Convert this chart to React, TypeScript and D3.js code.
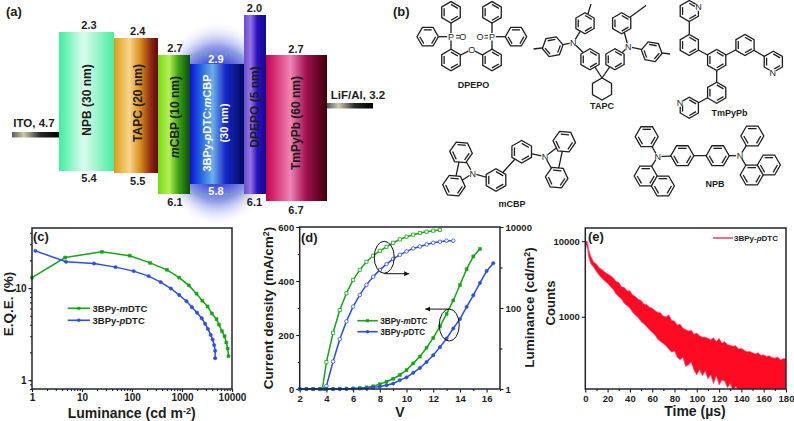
import { useEffect, useRef } from "react"
import * as d3 from "d3"

// panel (a): energy levels
const layerNames = ["NPB", "TAPC", "mCBP", "EML", "DPEPO", "TmPyPb"]
const layerLumo = [2.3, 2.4, 2.7, 2.9, 2.0, 2.7]
const layerHomo = [5.4, 5.5, 6.1, 5.8, 6.1, 6.7]
const levelTicks = [2.0, 2.3, 2.4, 2.7, 2.9, 3.2, 4.7, 5.4, 5.5, 5.8, 6.1, 6.7]
const levelPixels = [15, 32, 38, 55, 64, 103, 132, 171, 173, 184, 194, 201]

// panel (c)
const eqeGreenL = [1, 4.6, 25, 90, 230, 500, 880, 1370, 1950, 2550, 3250, 3950, 4900, 5500, 6300, 7100, 7700, 8200, 8500]
const eqeGreenY = [13, 21.5, 24.8, 22.5, 18.8, 15.8, 13, 10.7, 8.7, 7.3, 6.3, 5.3, 4.6, 4, 3.4, 3, 2.56, 2.2, 1.82]
const eqeBlueL = [1.17, 4.8, 17.4, 47, 108, 215, 375, 600, 880, 1230, 1580, 2000, 2480, 2900, 3300, 3750, 4100, 4400, 4600, 4600]
const eqeBlueY = [25.4, 19.3, 18.5, 16.9, 15.3, 13.5, 11.6, 9.9, 8.4, 7.2, 6.2, 5.4, 4.7, 4.1, 3.6, 3.1, 2.76, 2.4, 2.08, 1.73]

// panel (d)
const jGreenV = [2, 2.5, 3, 3.5, 4, 4.5, 5, 5.5, 6, 6.5, 7, 7.5, 8, 8.5, 9, 9.5, 10, 10.5, 11, 11.5, 12, 12.5, 13, 13.5, 14, 14.5, 15, 15.5]
const jGreen = [0, 0, 0, 0, 0, 0, 1, 1, 2, 4, 6, 10, 18, 27, 38, 52, 70, 95, 120, 153, 189, 232, 278, 328, 385, 444, 491, 519]
const jBlueV = [2, 2.5, 3, 3.5, 4, 4.5, 5, 5.5, 6, 6.5, 7, 7.5, 8, 8.5, 9, 9.5, 10, 10.5, 11, 11.5, 12, 12.5, 13, 13.5, 14, 14.5, 15, 15.5, 16, 16.5]
const jBlue = [0, 0, 0, 0, 0, 0, 0, 0, 1, 2, 3, 6, 9, 14, 20, 33, 43, 60, 78, 100, 125, 155, 187, 224, 259, 304, 347, 393, 437, 466]
const lumGreenV = [3.7, 4, 4.5, 5, 5.5, 6, 6.5, 7, 7.5, 8, 8.5, 9, 9.5, 10, 10.5, 11, 11.5, 12, 12.5]
const lumGreen = [1, 4.6, 24.4, 89, 231, 494, 875, 1385, 1945, 2590, 3250, 4080, 4945, 5750, 6460, 7100, 7660, 8110, 8430]
const lumBlueV = [3.9, 4, 4.5, 5, 5.5, 6, 6.5, 7, 7.5, 8, 8.5, 9, 9.5, 10, 10.5, 11, 11.5, 12, 12.5, 13, 13.5]
const lumBlue = [1, 1.19, 4.76, 17, 46.7, 108, 210, 372, 587, 873, 1210, 1640, 2060, 2495, 2960, 3310, 3715, 4080, 4325, 4580, 4580]

// panel (e): noisy decay, read as upper and lower edge of the band
const decayT = [0, 1, 2, 3, 4, 5, 7.5, 10, 12.5, 15, 17.5, 20, 22.5, 25, 27.5, 30, 32.5, 35, 37.5, 40, 42.5, 45, 47.5, 50, 52.5, 55, 57.5, 60, 62.5, 65, 67.5, 70, 72.5, 75, 77.5, 80, 82.5, 85, 87.5, 90, 92.5, 95, 97.5, 100, 102.5, 105, 107.5, 110, 112.5, 115, 117.5, 120, 122.5, 125, 127.5, 130, 132.5, 135, 137.5, 140, 142.5, 145, 147.5, 150, 152.5, 155, 157.5, 160, 162.5, 165, 167.5, 170, 172.5, 175, 177.5, 180]
const decayUpper = [9200, 10000, 9800, 7800, 7000, 6300, 5300, 5000, 4450, 4200, 3900, 3700, 3500, 3300, 2950, 2850, 2500, 2450, 2200, 2200, 1950, 1850, 1700, 1650, 1480, 1450, 1350, 1300, 1210, 1150, 1130, 1020, 1000, 1060, 900, 880, 780, 800, 710, 680, 650, 670, 590, 610, 560, 540, 540, 520, 500, 530, 470, 520, 450, 470, 430, 420, 410, 415, 375, 385, 360, 345, 350, 335, 325, 335, 310, 315, 300, 305, 290, 285, 295, 270, 280, 280]
const decayLower = [7600, 8800, 7800, 6200, 5500, 5000, 4500, 3950, 3500, 3200, 2950, 2750, 2500, 2300, 2000, 1850, 1700, 1500, 1400, 1300, 1140, 1050, 970, 860, 800, 740, 670, 620, 570, 500, 470, 440, 410, 370, 340, 350, 290, 270, 290, 220, 230, 250, 195, 170, 200, 165, 190, 150, 170, 130, 165, 125, 145, 140, 115, 130, 105, 120, 100, 100, 100, 100, 100, 100, 100, 100, 100, 100, 100, 100, 100, 100, 100, 100, 100, 100]

// panel (b): ring centres [x, y, rotation], links, atoms
const dpepoRings = [[451, 12.3, 30], [427.7, 36.7, 0], [451, 60, 30], [492, 12.3, 30], [516, 36.7, 0], [492, 60, 30]]
const dpepoLinks = [[451, 12.3, 451, 60], [427.7, 36.7, 451, 36.7], [492, 12.3, 492, 60], [516, 36.7, 492, 36.7], [451, 60, 471.7, 49.3], [492, 60, 471.7, 49.3]]
const dpepoAtoms = [[451, 36.7, "P"], [492, 36.7, "P"], [462.7, 36.7, "O"], [480, 36.7, "O"], [471.7, 49.3, "O"]]
const tapcRings = [[585, 23.3, 30], [552.7, 46.7, -10], [590, 59.3, 30], [621.7, 23.3, 30], [651.7, 51.7, 10], [615, 59.3, 30]]
const tapcLinks = [[591, 4, 585, 23.3], [533.5, 49, 552.7, 46.7], [646, 5.5, 621.7, 23.3], [670, 54, 651.7, 51.7], [573.3, 42.7, 585, 23.3], [573.3, 42.7, 552.7, 46.7], [573.3, 42.7, 590, 59.3], [628.3, 46.7, 621.7, 23.3], [628.3, 46.7, 651.7, 51.7], [628.3, 46.7, 615, 59.3], [590, 59.3, 602, 78], [615, 59.3, 602, 78]]
const tapcAtoms = [[573.3, 42.7, "N"], [628.3, 46.7, "N"]]
const cyclohexane = [602, 89, 30]
const tmpypbRings = [[689.3, 11, 30], [689.3, 45, 30], [716.7, 60, 30], [745, 45, 30], [773.3, 61.7, 30], [716.7, 92.7, 30], [689.3, 107.7, 30]]
const tmpypbLinks = [[689.3, 11, 689.3, 45], [689.3, 45, 716.7, 60], [716.7, 60, 745, 45], [745, 45, 773.3, 61.7], [716.7, 60, 716.7, 92.7], [716.7, 92.7, 689.3, 107.7]]
const tmpypbAtoms = [[698.5, 7, "N"], [772.7, 72.5, "N"], [680, 103, "N"]]
const mcbpRings = [[461, 152.3, 5], [454, 185.7, 5], [496, 180, 30], [521.7, 151.7, 30], [564.3, 141.7, 5], [556.7, 177.7, 5]]
const mcbpLinks = [[472.7, 173.3, 461, 152.3], [472.7, 173.3, 454, 185.7], [461, 152.3, 454, 185.7], [472.7, 173.3, 496, 180], [496, 180, 521.7, 151.7], [521.7, 151.7, 545, 156.7], [545, 156.7, 564.3, 141.7], [545, 156.7, 556.7, 177.7], [564.3, 141.7, 556.7, 177.7]]
const mcbpAtoms = [[472.7, 173.3, "N"], [545, 156.7, "N"]]
const npbRings = [[646.7, 136.7, 0], [645.7, 176, 0], [662.9, 186, 0], [682.3, 155.7, 0], [717.7, 155.7, 0], [752.3, 136, 0], [751.7, 175, 0], [768.9, 165, 0]]
const npbLinks = [[657.7, 156.7, 646.7, 136.7], [657.7, 156.7, 645.7, 176], [657.7, 156.7, 682.3, 155.7], [682.3, 155.7, 717.7, 155.7], [717.7, 155.7, 740, 155.7], [740, 155.7, 752.3, 136], [740, 155.7, 751.7, 175]]
const npbAtoms = [[657.7, 156.7, "N"], [740, 155.7, "N"]]

const FONT = "'Liberation Sans', Arial, sans-serif"
const INK = "#1c1c1c"
const GREEN = "#17a317"
const BLUE = "#2a4fe2"

type Part = [string, string?]

function label(g: any, x: number, y: number, parts: Part[], o: any = {}) {
  const t = g
    .append("text")
    .attr("x", x)
    .attr("y", y)
    .attr("font-family", FONT)
    .attr("font-weight", o.weight || "bold")
    .attr("font-size", o.size || 10)
    .attr("fill", o.fill || INK)
    .attr("text-anchor", o.anchor || "middle")
  if (o.rotate !== undefined) t.attr("transform", `rotate(${o.rotate},${x},${y})`)
  let raised = false
  parts.forEach(([s, kind]) => {
    const span = t.append("tspan").text(s)
    if (kind === "i") span.attr("font-style", "italic")
    if (kind === "sup") {
      span.attr("dy", "-0.4em").attr("font-size", "0.65em")
      raised = true
    } else if (raised) {
      span.attr("dy", "0.26em")
      raised = false
    }
  })
  return t
}

function gradient(defs: any, id: string, stops: [number, string][]) {
  const lg = defs.append("linearGradient").attr("id", id)
  stops.forEach(([o, c]) => lg.append("stop").attr("offset", o).attr("stop-color", c))
}

function drawAxis(g: any, axis: any, transform: string, size = 10) {
  const a = g.append("g").attr("transform", transform).call(axis)
  a.select(".domain").remove()
  a.selectAll("line").attr("stroke", INK).attr("stroke-width", 1.1)
  a.selectAll("text").attr("font-family", FONT).attr("font-weight", "bold").attr("font-size", size).attr("fill", INK)
  return a
}

function frame(g: any, x0: number, x1: number, y0: number, y1: number) {
  g.append("rect")
    .attr("x", x0)
    .attr("y", y0)
    .attr("width", x1 - x0)
    .attr("height", y1 - y0)
    .attr("fill", "none")
    .attr("stroke", "#20242e")
    .attr("stroke-width", 1.5)
}

function hexPoints(cx: number, cy: number, rot: number, r: number) {
  return d3.range(6).map((i) => {
    const a = ((rot + i * 60) * Math.PI) / 180
    return [cx + r * Math.cos(a), cy + r * Math.sin(a)]
  })
}

function molecule(g: any, rings: any[], links: any[], atoms: any[], r: number) {
  const m = g.append("g").attr("stroke", "#1e1e1e").attr("stroke-width", 1.3).attr("fill", "none")
  links.forEach(([a, b, c, d]) => m.append("line").attr("x1", a).attr("y1", b).attr("x2", c).attr("y2", d))
  rings.forEach(([cx, cy, rot]) => {
    const pts = hexPoints(cx, cy, rot, r)
    m.append("polygon").attr("points", pts.join(" ")).attr("fill", "#fff")
    ;[0, 2, 4].forEach((i) => {
      const p = pts[i]
      const q = pts[(i + 1) % 6]
      const k = 0.74
      m.append("line")
        .attr("x1", cx + (p[0] - cx) * k)
        .attr("y1", cy + (p[1] - cy) * k)
        .attr("x2", cx + (q[0] - cx) * k)
        .attr("y2", cy + (q[1] - cy) * k)
    })
  })
  atoms.forEach(([x, y, s]) => {
    g.append("circle").attr("cx", x).attr("cy", y).attr("r", 3.8).attr("fill", "#fff")
    label(g, x, y + 3.3, [[s]], { size: 9, weight: "normal", fill: "#1e1e1e" })
  })
}

function series(g: any, xs: number[], ys: number[], x: any, y: any, color: string, shape: string, open: boolean) {
  const pts = xs.map((v, i) => [x(v), y(ys[i])])
  g.append("path")
    .attr("d", d3.line()(pts as any))
    .attr("fill", "none")
    .attr("stroke", color)
    .attr("stroke-width", 1.5)
  pts.forEach(([px, py]) => {
    const s = shape === "square" ? d3.symbolSquare : d3.symbolCircle
    g.append("path")
      .attr("d", d3.symbol(s, open ? 10 : 9)())
      .attr("transform", `translate(${px},${py})`)
      .attr("fill", open ? "#fff" : color)
      .attr("stroke", color)
      .attr("stroke-width", open ? 0.8 : 0.5)
  })
}

function legendRow(g: any, x0: number, x1: number, y: number, color: string, shape: string, parts: Part[], size: number) {
  g.append("line").attr("x1", x0).attr("x2", x1).attr("y1", y).attr("y2", y).attr("stroke", color).attr("stroke-width", 1.6)
  g.append("path")
    .attr("d", d3.symbol(shape === "square" ? d3.symbolSquare : d3.symbolCircle, 9)())
    .attr("transform", `translate(${(x0 + x1) / 2},${y})`)
    .attr("fill", color)
  label(g, x1 + 2.5, y + size * 0.36, parts, { size, anchor: "start" })
}

export default function App() {
  const svgRef = useRef<SVGSVGElement>(null)

  useEffect(() => {
    const svg = d3.select(svgRef.current)
    svg.selectAll("*").remove()
    const defs = svg.append("defs")

    // ---------- (a) ----------
    const a = svg.append("g")
    const level = d3.scaleLinear().domain(levelTicks).range(levelPixels)
    const edges = [59, 114, 158, 190, 244, 266, 327]
    const fills: [number, string][][] = [
      [[0, "#40eea0"], [0.45, "#dcfcec"], [1, "#48eca4"]],
      [[0, "#dd9c18"], [0.35, "#f8d68c"], [0.6, "#d88c1c"], [0.85, "#8a2412"], [1, "#5c0a10"]],
      [[0, "#78dc10"], [0.35, "#b4ee58"], [0.65, "#3aa012"], [1, "#0c4c10"]],
      [[0, "#0e10d8"], [0.2, "#2464e0"], [0.42, "#6cb0e8"], [0.66, "#1626c8"], [1, "#000a5c"]],
      [[0, "#6a4cd0"], [0.3, "#9474e2"], [0.6, "#2c10c0"], [1, "#100a8c"]],
      [[0, "#c60050"], [0.4, "#f084b4"], [0.66, "#a01050"], [1, "#3c0008"]],
    ]
    layerNames.forEach((n, i) => gradient(defs, `g-${n}`, fills[i]))
    gradient(defs, "g-metal", [[0, "#5a5a58"], [0.25, "#cfc8b0"], [0.6, "#2a2a28"], [1, "#000"]])

    const halo = defs.append("radialGradient").attr("id", "g-halo")
    halo.append("stop").attr("offset", 0.52).attr("stop-color", "#1a28d0")
    halo.append("stop").attr("offset", 0.74).attr("stop-color", "#6a78e0").attr("stop-opacity", 0.75)
    halo.append("stop").attr("offset", 1).attr("stop-color", "#ffffff").attr("stop-opacity", 0)
    a.append("ellipse").attr("cx", 217).attr("cy", 124).attr("rx", 66).attr("ry", 104).attr("fill", "url(#g-halo)")

    const order = [0, 1, 3, 2, 4, 5]
    order.forEach((i) => {
      a.append("rect")
        .attr("x", edges[i])
        .attr("width", edges[i + 1] - edges[i])
        .attr("y", level(layerLumo[i]))
        .attr("height", level(layerHomo[i]) - level(layerLumo[i]))
        .attr("fill", `url(#g-${layerNames[i]})`)
    })
    // dashed mCBP edges running on behind the emitter
    ;[2.7, 6.1].forEach((v) => {
      a.append("line")
        .attr("x1", 190)
        .attr("x2", 244)
        .attr("y1", level(v))
        .attr("y2", level(v))
        .attr("stroke", "#35d860")
        .attr("stroke-width", 1)
        .attr("stroke-dasharray", "2 3")
    })
    a.append("rect").attr("x", 12).attr("y", level(4.7)).attr("width", 47).attr("height", 5.5).attr("fill", "url(#g-metal)")
    a.append("rect").attr("x", 327).attr("y", level(3.2)).attr("width", 46).attr("height", 5.5).attr("fill", "url(#g-metal)")

    label(a, 6, 16, [["(a)"]], { size: 13, anchor: "start" })
    const lumoY = [29, 35, 52, 63, 12, 53]
    const homoY = [182, 185, 206, 195, 206, 214]
    const labelX = [89, 137.7, 175, 216, 254.5, 296]
    layerNames.forEach((n, i) => {
      const fill = n === "EML" ? "#fff" : INK
      label(a, labelX[i], lumoY[i], [[layerLumo[i].toFixed(1)]], { size: 11, fill })
      label(a, labelX[i], homoY[i], [[layerHomo[i].toFixed(1)]], { size: 11, fill })
    })
    label(a, 34, 127, [["ITO, 4.7"]], { size: 11.5 })
    label(a, 358, 99, [["LiF/Al, 3.2"]], { size: 11.5 })
    const v = { size: 12, rotate: -90 }
    label(a, 91, 100, [["NPB (30 nm)"]], v)
    label(a, 141.5, 103, [["TAPC (20 nm)"]], v)
    label(a, 178.5, 117, [["m", "i"], ["CBP (10 nm)"]], v)
    label(a, 211, 123, [["3BPy-"], ["p", "i"], ["DTC:"], ["m", "i"], ["CBP"]], { ...v, fill: "#fff", size: 11 })
    label(a, 228, 123, [["(30 nm)"]], { ...v, fill: "#fff", size: 11 })
    label(a, 258.5, 107, [["DPEPO (5 nm)"]], v)
    label(a, 300, 123, [["TmPyPb (60 nm)"]], v)

    // ---------- (b) ----------
    const b = svg.append("g")
    label(b, 393, 16, [["(b)"]], { size: 13, anchor: "start" })
    molecule(b, dpepoRings, dpepoLinks, dpepoAtoms, 10.7)
    ;[[456, 460], [484.5, 488]].forEach(([x1, x2]) => {
      ;[-1.3, 1.3].forEach((dy) => {
        b.append("line").attr("x1", x1).attr("x2", x2).attr("y1", 36.7 + dy).attr("y2", 36.7 + dy).attr("stroke", "#222").attr("stroke-width", 0.9)
      })
    })
    b.append("polygon")
      .attr("points", hexPoints(cyclohexane[0], cyclohexane[1], cyclohexane[2], 11).join(" "))
      .attr("fill", "none")
      .attr("stroke", "#1e1e1e")
      .attr("stroke-width", 1.3)
    molecule(b, tapcRings, tapcLinks, tapcAtoms, 10.5)
    molecule(b, tmpypbRings, tmpypbLinks, tmpypbAtoms, 10.5)
    molecule(b, mcbpRings, mcbpLinks, mcbpAtoms, 11.3)
    molecule(b, npbRings, npbLinks, npbAtoms, 11.5)
    const m = { size: 9 }
    label(b, 473.5, 88, [["DPEPO"]], m)
    label(b, 602, 109, [["TAPC"]], m)
    label(b, 729.5, 116, [["TmPyPb"]], m)
    label(b, 512, 207, [["mCBP"]], m)
    label(b, 715, 187, [["NPB"]], m)

    // ---------- (c) ----------
    const c = svg.append("g")
    const cx = d3.scaleLog().domain([1, 10000]).range([32, 232])
    const cy = d3.scaleLog().domain([0.8, 45]).range([389, 228])
    const cMajorX = [1, 10, 100, 1000, 10000]
    const cMajorY = [1, 10]
    drawAxis(c, d3.axisBottom(cx).tickValues(cx.ticks()).tickSize(2).tickFormat(() => ""), "translate(0,389)")
    drawAxis(c, d3.axisBottom(cx).tickValues(cMajorX).tickSize(3).tickPadding(1.5).tickFormat(d3.format("d")), "translate(0,389)", 10)
    drawAxis(c, d3.axisLeft(cy).tickValues(cy.ticks()).tickSize(2).tickFormat(() => ""), "translate(32,0)")
    drawAxis(c, d3.axisLeft(cy).tickValues(cMajorY).tickSize(3.5).tickPadding(2).tickFormat(d3.format("d")), "translate(32,0)", 10)
    series(c, eqeGreenL, eqeGreenY, cx, cy, GREEN, "square", false)
    series(c, eqeBlueL, eqeBlueY, cx, cy, BLUE, "circle", false)
    frame(c, 32, 232, 228, 389)
    label(c, 33, 241, [["(c)"]], { size: 13, anchor: "start" })
    legendRow(c, 67.7, 90, 308.3, GREEN, "square", [["3BPy-"], ["m", "i"], ["DTC"]], 9.5)
    legendRow(c, 67.7, 90, 320.3, BLUE, "circle", [["3BPy-"], ["p", "i"], ["DTC"]], 9.5)
    label(c, 131.7, 418, [["Luminance (cd m"], ["-2", "sup"], [")"]], { size: 14 })
    label(c, 13, 304, [["E.Q.E. (%)"]], { size: 13.5, rotate: -90 })

    // ---------- (d) ----------
    const d = svg.append("g")
    const dx = d3.scaleLinear().domain([2, 17]).range([299.7, 500])
    const dj = d3.scaleLinear().domain([0, 600]).range([389, 227])
    const dl = d3.scaleLog().domain([1, 10000]).range([389, 227])
    drawAxis(d, d3.axisBottom(dx).tickValues(d3.range(3, 18, 2)).tickSize(2).tickFormat(() => ""), "translate(0,389)")
    drawAxis(d, d3.axisBottom(dx).tickValues(d3.range(2, 18, 2)).tickSize(3.5).tickPadding(3).tickFormat(d3.format("d")), "translate(0,389)", 9.5)
    drawAxis(d, d3.axisLeft(dj).tickValues([100, 300, 500]).tickSize(2).tickFormat(() => ""), "translate(299.7,0)")
    drawAxis(d, d3.axisLeft(dj).tickValues([0, 200, 400, 600]).tickSize(3.5).tickPadding(2).tickFormat(d3.format("d")), "translate(299.7,0)", 9.5)
    drawAxis(d, d3.axisRight(dl).tickValues([10, 1000]).tickSize(2.5).tickFormat(() => ""), "translate(500,0)")
    drawAxis(d, d3.axisRight(dl).tickValues([1, 100, 10000]).tickSize(3.5).tickPadding(2).tickFormat(d3.format("d")), "translate(500,0)", 9.5)
    series(d, lumGreenV, lumGreen, dx, dl, GREEN, "square", true)
    series(d, lumBlueV, lumBlue, dx, dl, BLUE, "circle", true)
    series(d, jGreenV, jGreen, dx, dj, GREEN, "square", false)
    series(d, jBlueV, jBlue, dx, dj, BLUE, "circle", false)
    frame(d, 299.7, 500, 227, 389)
    label(d, 301, 242, [["(d)"]], { size: 13, anchor: "start" })
    legendRow(d, 357.3, 377.7, 320.7, GREEN, "square", [["3BPy-"], ["m", "i"], ["DTC"]], 8.2)
    legendRow(d, 357.3, 377.7, 331.7, BLUE, "circle", [["3BPy-"], ["p", "i"], ["DTC"]], 8.2)
    label(d, 400, 417, [["V"]], { size: 14 })
    label(d, 273, 308, [["Current density (mA/cm"], ["2", "sup"], [")"]], { size: 13.5, rotate: -90 })
    label(d, 534, 307.5, [["Luminance (cd/m"], ["2", "sup"], [")"]], { size: 13.5, rotate: -90 })
    // circled groups and their arrows
    defs
      .append("marker")
      .attr("id", "arrow")
      .attr("markerWidth", 6)
      .attr("markerHeight", 6)
      .attr("refX", 5)
      .attr("refY", 2.5)
      .attr("orient", "auto")
      .append("path")
      .attr("d", "M0,0L5,2.5L0,5Z")
      .attr("fill", "#111")
    const annotations = [
      { v: 8.33, j: 488, x2: 10.2, jLine: 427 },
      { v: 13.2, j: 237, x2: 11.4, jLine: 296 },
    ]
    annotations.forEach((n) => {
      d.append("ellipse")
        .attr("cx", dx(n.v))
        .attr("cy", dj(n.j))
        .attr("rx", 10)
        .attr("ry", 16)
        .attr("fill", "none")
        .attr("stroke", "#111")
        .attr("stroke-width", 1)
      d.append("line")
        .attr("x1", dx(n.v))
        .attr("x2", dx(n.x2))
        .attr("y1", dj(n.jLine))
        .attr("y2", dj(n.jLine))
        .attr("stroke", "#111")
        .attr("stroke-width", 1)
        .attr("marker-end", "url(#arrow)")
    })

    // ---------- (e) ----------
    const e = svg.append("g")
    const ex = d3.scaleLinear().domain([0, 180]).range([585.3, 786])
    const ey = d3.scaleLog().domain([111, 14900]).range([389, 228])
    defs.append("clipPath").attr("id", "clip-e").append("rect").attr("x", 585.3).attr("y", 228).attr("width", 200.7).attr("height", 161)
    const band = d3
      .area<number>()
      .x((t) => ex(t))
      .y0((_, i) => ey(decayLower[i]))
      .y1((_, i) => ey(decayUpper[i]))
    e.append("path")
      .attr("clip-path", "url(#clip-e)")
      .attr("d", band(decayT))
      .attr("fill", "#ff0a22")
      .attr("stroke", "#ec6a9c")
      .attr("stroke-width", 0.7)
    drawAxis(e, d3.axisBottom(ex).tickValues(d3.range(10, 180, 20)).tickSize(2).tickFormat(() => ""), "translate(0,389)")
    drawAxis(e, d3.axisBottom(ex).tickValues(d3.range(0, 200, 20)).tickSize(3.5).tickPadding(3).tickFormat(d3.format("d")), "translate(0,389)", 9.5)
    drawAxis(e, d3.axisLeft(ey).tickValues([1000, 10000]).tickSize(3.5).tickPadding(2).tickFormat(d3.format("d")), "translate(585.3,0)", 9.5)
    frame(e, 585.3, 786, 228, 389)
    label(e, 588, 241, [["(e)"]], { size: 13, anchor: "start" })
    e.append("line").attr("x1", 713).attr("x2", 733).attr("y1", 238).attr("y2", 238).attr("stroke", "#ec6a9c").attr("stroke-width", 2)
    label(e, 734, 241, [["3BPy-"], ["p", "i"], ["DTC"]], { size: 8, anchor: "start" })
    label(e, 695, 416, [["Time ("], ["\u00b5"], ["s)"]], { size: 14 })
    label(e, 555, 303, [["Counts"]], { size: 13, rotate: -90 })
  }, [])

  return (
    <svg
      ref={svgRef}
      width={794}
      height={421}
      style={{ position: "absolute", left: 0, top: 0, background: "#fff", display: "block" }}
    />
  )
}
